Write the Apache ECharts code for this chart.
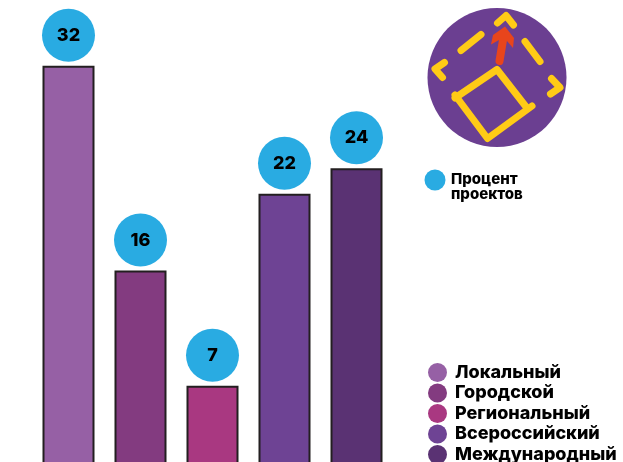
<!DOCTYPE html>
<html>
<head>
<meta charset="utf-8">
<style>html,body{margin:0;padding:0;background:#fff;overflow:hidden}#chart{width:623px;height:462px}</style>
<script src="https://cdn.jsdelivr.net/npm/echarts@6/dist/echarts.min.js"></script>
</head>
<body>
<div id="chart"></div>
<script>
// Share of projects by geographic level, percent
const categories = ['Локальный', 'Городской', 'Региональный', 'Всероссийский', 'Международный'];
const projectShare = [32, 16, 7, 22, 24];
const barColors = ['#9660a5', '#833b80', '#a93881', '#6e4394', '#5a3273'];
const shareLabel = 'Процент\nпроектов';

const fontFamily = 'Inter, "DejaVu Sans", sans-serif';
const bubbleColor = '#29abe2';
const yellow = '#ffcb16';

// One series per level so the legend lists them; they overlap on a shared slot
const series = categories.map((name, i) => ({
  name,
  type: 'bar',
  barWidth: 52,
  barGap: '-100%',
  data: projectShare.map((v, j) => (j === i ? v : null)),
  itemStyle: { color: barColors[i], borderColor: '#231f20', borderWidth: 2 },
  label: {
    show: true,
    position: 'top',
    distance: 4,
    formatter: p => (p.value == null ? '' : '{b|' + p.value + '}'),
    rich: {
      b: {
        width: 53, height: 53, lineHeight: 53, borderRadius: 27,
        backgroundColor: bubbleColor, align: 'center', verticalAlign: 'middle',
        color: '#000', fontSize: 18, fontWeight: 800, fontFamily
      }
    }
  }
}));

const stroke = (points, color, width) => ({
  type: 'polyline',
  shape: { points },
  style: { stroke: color || yellow, fill: null, lineWidth: width || 7, lineCap: 'round', lineJoin: 'round' }
});

// Emblem: a square shifting upwards inside a dashed frame
const emblem = [
  { type: 'circle', shape: { cx: 497, cy: 77.5, r: 69.5 }, style: { fill: '#6b3f91' } },
  stroke([[455, 95], [487.5, 138.5], [532, 106]]),
  stroke([[455, 98], [497, 69.5], [527, 108]]),
  stroke([[497.5, 23], [506, 15.5], [513.5, 25]]),
  stroke([[461, 50.5], [481, 34.5]]),
  stroke([[525, 41.5], [540, 61.5]]),
  stroke([[444.5, 62.5], [435, 69], [442.5, 77.5]]),
  stroke([[550.5, 94], [560, 87.5], [551.5, 78.5]]),
  stroke([[499.5, 61], [503, 40]], '#e8451c', 8),
  {
    type: 'polygon',
    shape: { points: [[505, 26.5], [514, 38], [513, 48], [507, 41], [499, 40], [491, 44.5], [493, 35]] },
    style: { fill: '#e8451c' }
  }
];

const shareKey = [
  { type: 'circle', shape: { cx: 435, cy: 180, r: 10.5 }, style: { fill: bubbleColor } },
  {
    type: 'text', x: 451, y: 172,
    style: { text: shareLabel, fill: '#000', font: '800 15px ' + fontFamily, lineHeight: 15 }
  }
];

const chart = echarts.init(document.getElementById('chart'), null, { renderer: 'canvas' });
chart.setOption({
  animation: false,
  backgroundColor: '#fff',
  grid: { left: 32.5, top: 14.6, width: 360, height: 460.8, outerBoundsMode: 'none' },
  xAxis: { type: 'category', data: categories, show: false },
  yAxis: { type: 'value', min: 0, max: 36, show: false },
  legend: {
    left: 428, top: 363, height: 140, padding: 0, orient: 'vertical', icon: 'circle',
    itemWidth: 19, itemHeight: 19, itemGap: 1.5, selectedMode: false,
    itemStyle: { borderWidth: 0 },
    data: categories,
    textStyle: { color: '#000', fontSize: 18, fontWeight: 800, fontFamily, padding: [0, 0, 0, 3] }
  },
  series,
  graphic: { elements: emblem.concat(shareKey) }
});
</script>
</body>
</html>
